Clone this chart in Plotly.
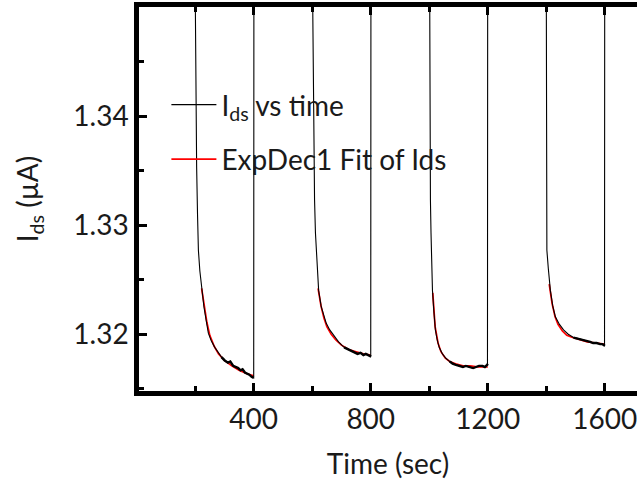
import plotly.graph_objects as go

# ---- data ----
t_ids = [0, 199, 200, 203, 205, 208, 211, 216, 223, 230, 238, 245, 255, 267, 280, 290, 301, 312, 320, 330, 340,
         347, 355, 362, 370, 378, 385, 393, 399, 400, 401,
         599, 600, 603, 606, 608, 611, 617, 622, 631, 640, 648, 660, 675, 690, 709, 725, 735, 743, 755, 765,
         775, 783, 790, 798, 800, 801,
         999, 1000, 1002, 1004, 1006, 1011, 1016, 1021, 1027, 1034, 1045, 1057, 1070, 1080, 1091, 1105, 1115,
         1125, 1136, 1150, 1160, 1170, 1182, 1190, 1198, 1199, 1200,
         1399, 1400, 1401, 1402, 1407, 1414, 1422, 1431, 1445, 1459, 1475, 1493, 1510, 1525, 1539, 1550, 1560,
         1572, 1584, 1592, 1597, 1599, 1600, 1720]
ids = [1.37, 1.37, 1.352, 1.340, 1.3353, 1.3310, 1.3277, 1.3258, 1.3239, 1.3225, 1.3212, 1.3201, 1.3194, 1.3188,
       1.3183, 1.3179, 1.3176, 1.3174, 1.3175, 1.3171, 1.3170, 1.3169, 1.3167, 1.3168, 1.3165, 1.3164, 1.3163,
       1.3161, 1.3160, 1.3160, 1.37,
       1.37, 1.355, 1.345, 1.336, 1.3323, 1.3293, 1.3262, 1.3240, 1.3225, 1.3216, 1.3210, 1.3204, 1.3198, 1.3193,
       1.3188, 1.3186, 1.3185, 1.3184, 1.3182, 1.3183, 1.3181, 1.3182, 1.3181, 1.3180, 1.3181, 1.37,
       1.37, 1.355, 1.340, 1.3323, 1.3293, 1.3240, 1.3220, 1.3204, 1.3195, 1.3188, 1.3182, 1.3178, 1.3175,
       1.3173, 1.3172, 1.3171, 1.3170, 1.3171, 1.3170, 1.3169, 1.3170, 1.3171, 1.3171, 1.3170, 1.3172, 1.3173, 1.37,
       1.37, 1.352, 1.340, 1.3277, 1.3260, 1.3240, 1.3226, 1.3216, 1.3209, 1.3204, 1.3200, 1.3197, 1.3196, 1.3195,
       1.3194, 1.3193, 1.3192, 1.3192, 1.3191, 1.3191, 1.3190, 1.3191, 1.37, 1.37]

t_fit = [222, 230, 240, 250, 265, 280, 300, 325, 350, 375, 400, None,
         620, 630, 640, 650, 665, 680, 700, 725, 750, 775, 800, None,
         1012, 1020, 1030, 1040, 1055, 1070, 1090, 1115, 1140, 1170, 1200, None,
         1410, 1420, 1430, 1440, 1455, 1470, 1490, 1515, 1540, 1570, 1600]
fit = [1.3242, 1.3226, 1.3211, 1.3199, 1.3189, 1.3182, 1.3176, 1.3171, 1.3167, 1.3164, 1.3162, None,
       1.3242, 1.3226, 1.3215, 1.3207, 1.3200, 1.3195, 1.3190, 1.3186, 1.3184, 1.3182, 1.3181, None,
       1.3238, 1.3207, 1.3192, 1.3184, 1.3178, 1.3175, 1.3173, 1.3171, 1.3171, 1.3170, 1.3170, None,
       1.3246, 1.3228, 1.3216, 1.3209, 1.3203, 1.3199, 1.3197, 1.3195, 1.3193, 1.3192, 1.3191]

x_ticks = [400, 800, 1200, 1600]
y_ticks = [1.32, 1.33, 1.34]

# thick noisy tails (the flat part of each decay)
tail_windows = [(285, 400), (705, 800), (1060, 1199), (1485, 1599)]
t_tail, ids_tail = [], []
for a, b in tail_windows:
    for t, v in zip(t_ids, ids):
        if a <= t <= b:
            t_tail.append(t)
            ids_tail.append(v)
    t_tail.append(None)
    ids_tail.append(None)

FONT = "Lato"
TXT = "#1a1a1a"
Y_RANGE = [1.3148, 1.3500]
fig = go.Figure()
fig.add_trace(go.Scatter(x=t_fit, y=fit, mode="lines", name="ExpDec1 Fit of Ids",
                         line=dict(color="#ff0000", width=1.7), legendgroup="fit", legendrank=2,
                         connectgaps=False))
fig.add_trace(go.Scatter(x=t_ids, y=ids, mode="lines", name="I<sub>ds</sub> vs time",
                         line=dict(color="#000000", width=1.1), legendgroup="ids", legendrank=1))
fig.add_trace(go.Scatter(x=t_tail, y=ids_tail, mode="lines", showlegend=False,
                         line=dict(color="#000000", width=2.4), legendgroup="ids", connectgaps=False))

axis_common = dict(showline=True, linewidth=4.5, linecolor="black", ticks="inside", tickwidth=3,
                   ticklen=8, tickcolor="black", showgrid=False, zeroline=False,
                   ticklabeloverflow="allow",
                   tickfont=dict(family=FONT, size=28, color=TXT))

fig.update_layout(
    width=637, height=483,
    margin=dict(l=139, r=0, t=7, b=92),
    paper_bgcolor="white", plot_bgcolor="white",
    font=dict(family=FONT, size=28, color=TXT),
    xaxis=dict(range=[8, 1710], tickvals=x_ticks, mirror="ticks",
               minor=dict(dtick=200, tick0=0, ticks="inside", ticklen=5, tickwidth=2.5, tickcolor="black"),
               title=dict(text="Time (sec)", font=dict(family=FONT, size=28, color=TXT), standoff=22),
               **axis_common),
    yaxis=dict(range=Y_RANGE, tickvals=y_ticks, tickformat=".2f",
               minor=dict(dtick=0.005, tick0=1.30, ticks="inside", ticklen=5, tickwidth=2.5, tickcolor="black"),
               title=dict(text="I<sub>ds</sub> (µA)", font=dict(family=FONT, size=28, color=TXT), standoff=28),
               **axis_common),
    yaxis2=dict(range=Y_RANGE, overlaying="y", side="right", tickvals=y_ticks, ticks="inside",
                ticklen=3, tickwidth=3, tickcolor="black", showticklabels=False, showline=False,
                showgrid=False, zeroline=False),
    legend=dict(x=0.055, y=0.81, xanchor="left", yanchor="top", bgcolor="rgba(0,0,0,0)",
                traceorder="grouped", tracegroupgap=15, itemwidth=45,
                font=dict(family=FONT, size=28, color=TXT)),
    showlegend=True,
)

fig.write_html("out.html")
